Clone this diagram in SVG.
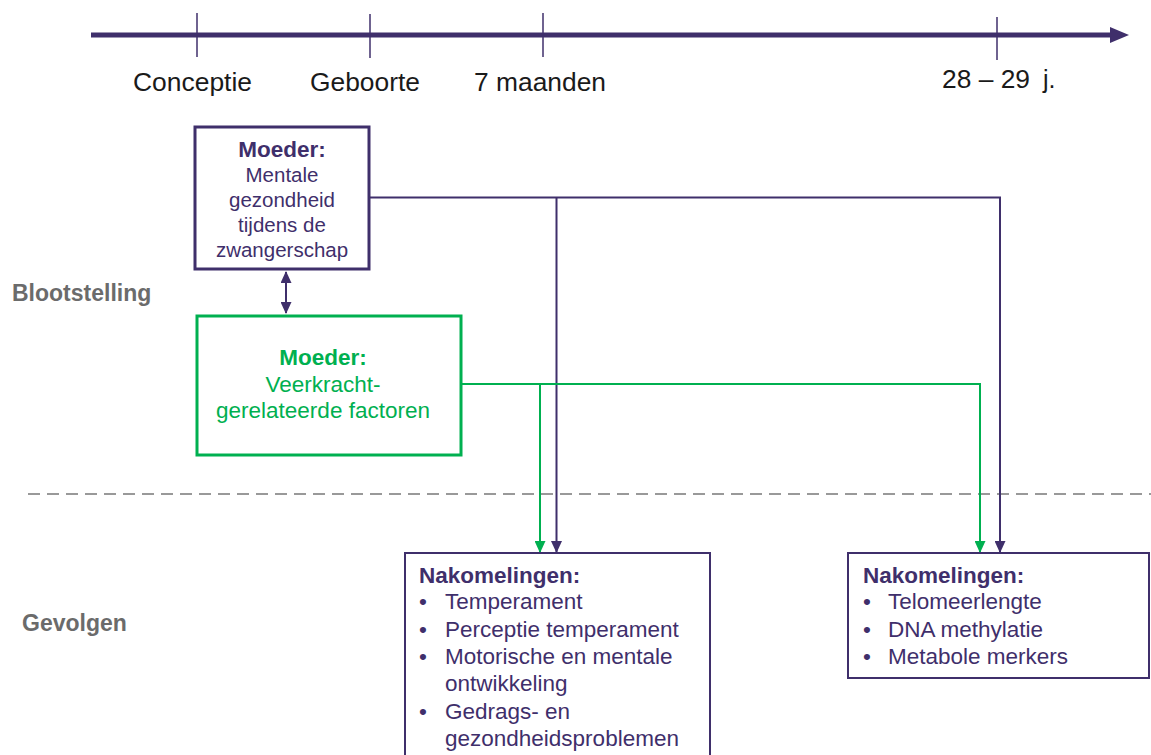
<svg xmlns="http://www.w3.org/2000/svg" width="1151" height="755" viewBox="0 0 1151 755">
<defs>
<style>
text{font-family:"Liberation Sans",Arial,sans-serif}
.tl{font-size:25px;fill:#1a1a1a}
.side{font-size:23px;font-weight:bold;fill:#6b6b6b}
.p{fill:#3f2f6b}
.g{fill:#00b050}
.box{fill:#fff;stroke-width:3}
.pl{stroke:#3f2f6b;stroke-width:2;fill:none}
.gl{stroke:#00b050;stroke-width:2;fill:none}
</style>
<marker id="ap" markerWidth="12" markerHeight="11" refX="11" refY="5.5" orient="auto" markerUnits="userSpaceOnUse" viewBox="0 0 12 11"><path d="M0,0 L12,5.5 L0,11 z" fill="#3f2f6b"/></marker>
<marker id="ag" markerWidth="12" markerHeight="11" refX="11" refY="5.5" orient="auto" markerUnits="userSpaceOnUse" viewBox="0 0 12 11"><path d="M0,0 L12,5.5 L0,11 z" fill="#00b050"/></marker>
<marker id="apb" markerWidth="12" markerHeight="11" refX="11" refY="5.5" orient="auto-start-reverse" markerUnits="userSpaceOnUse" viewBox="0 0 12 11"><path d="M0,0 L12,5.5 L0,11 z" fill="#3f2f6b"/></marker>
</defs>
<rect width="1151" height="755" fill="#fff"/>
<g id="timeline">
<line x1="91" y1="35" x2="1114" y2="35" stroke="#3f2f6b" stroke-width="5"/>
<path d="M1110,27 L1129,35 L1110,43 z" fill="#3f2f6b"/>
<g stroke="#3f2f6b" stroke-width="1.5">
<line x1="197" y1="13" x2="197" y2="57"/>
<line x1="370" y1="14" x2="370" y2="58"/>
<line x1="543" y1="13" x2="543" y2="57"/>
<line x1="997" y1="17" x2="997" y2="60"/>
</g>
<text class="tl" x="133" y="91" textLength="119" lengthAdjust="spacingAndGlyphs">Conceptie</text>
<text class="tl" x="310" y="91" textLength="110" lengthAdjust="spacingAndGlyphs">Geboorte</text>
<text class="tl" x="474" y="91" textLength="132" lengthAdjust="spacingAndGlyphs">7 maanden</text>
<text class="tl" x="942" y="88" textLength="88" lengthAdjust="spacingAndGlyphs">28 – 29</text>
<text class="tl" x="1043" y="88">j.</text>
</g>
<line id="divider" x1="28" y1="494" x2="1151" y2="494" stroke="#999" stroke-width="2" stroke-dasharray="12,7"/>
<text class="side" x="12" y="301">Blootstelling</text>
<text class="side" x="22" y="631">Gevolgen</text>
<g id="connectors">
<path class="pl" d="M369,197.5 H1000 V552" marker-end="url(#ap)"/>
<path class="pl" d="M556.5,197.5 V552" marker-end="url(#ap)"/>
<path class="gl" d="M461,384 H980 V552" marker-end="url(#ag)"/>
<path class="gl" d="M540,384 V552" marker-end="url(#ag)"/>
<line class="pl" x1="286" y1="272" x2="286" y2="313" marker-start="url(#apb)" marker-end="url(#apb)"/>
</g>
<g id="node-mental">
<rect class="box" x="195" y="127" width="174" height="142" stroke="#3f2f6b"/>
<g class="p" font-size="20.5" text-anchor="middle">
<text x="282" y="157" font-weight="bold" font-size="22.5">Moeder:</text>
<text x="282" y="182">Mentale</text>
<text x="282" y="207">gezondheid</text>
<text x="282" y="232">tijdens de</text>
<text x="282" y="257">zwangerschap</text>
</g>
</g>
<g id="node-veerkracht">
<rect class="box" x="197" y="316" width="264" height="139" stroke="#00b050"/>
<g class="g" font-size="22.5" text-anchor="middle">
<text x="323" y="365" font-weight="bold">Moeder:</text>
<text x="323" y="392">Veerkracht-</text>
<text x="323" y="418">gerelateerde factoren</text>
</g>
</g>
<g id="node-nakomelingen1">
<rect x="405" y="553" width="305" height="210" fill="#fff" stroke="#3f2f6b" stroke-width="2"/>
<g class="p" font-size="22.5">
<text x="419" y="583" font-weight="bold">Nakomelingen:</text>
<text x="419" y="609">•</text><text x="445" y="609">Temperament</text>
<text x="419" y="637">•</text><text x="445" y="637">Perceptie temperament</text>
<text x="419" y="664">•</text><text x="445" y="664">Motorische en mentale</text>
<text x="445" y="691">ontwikkeling</text>
<text x="419" y="719">•</text><text x="445" y="719">Gedrags- en</text>
<text x="445" y="746">gezondheidsproblemen</text>
</g>
</g>
<g id="node-nakomelingen2">
<rect x="848" y="553" width="301" height="125" fill="#fff" stroke="#3f2f6b" stroke-width="2"/>
<g class="p" font-size="22.5">
<text x="863" y="583" font-weight="bold">Nakomelingen:</text>
<text x="863" y="609">•</text><text x="888" y="609">Telomeerlengte</text>
<text x="863" y="637">•</text><text x="888" y="637">DNA methylatie</text>
<text x="863" y="664">•</text><text x="888" y="664">Metabole merkers</text>
</g>
</g>
</svg>
